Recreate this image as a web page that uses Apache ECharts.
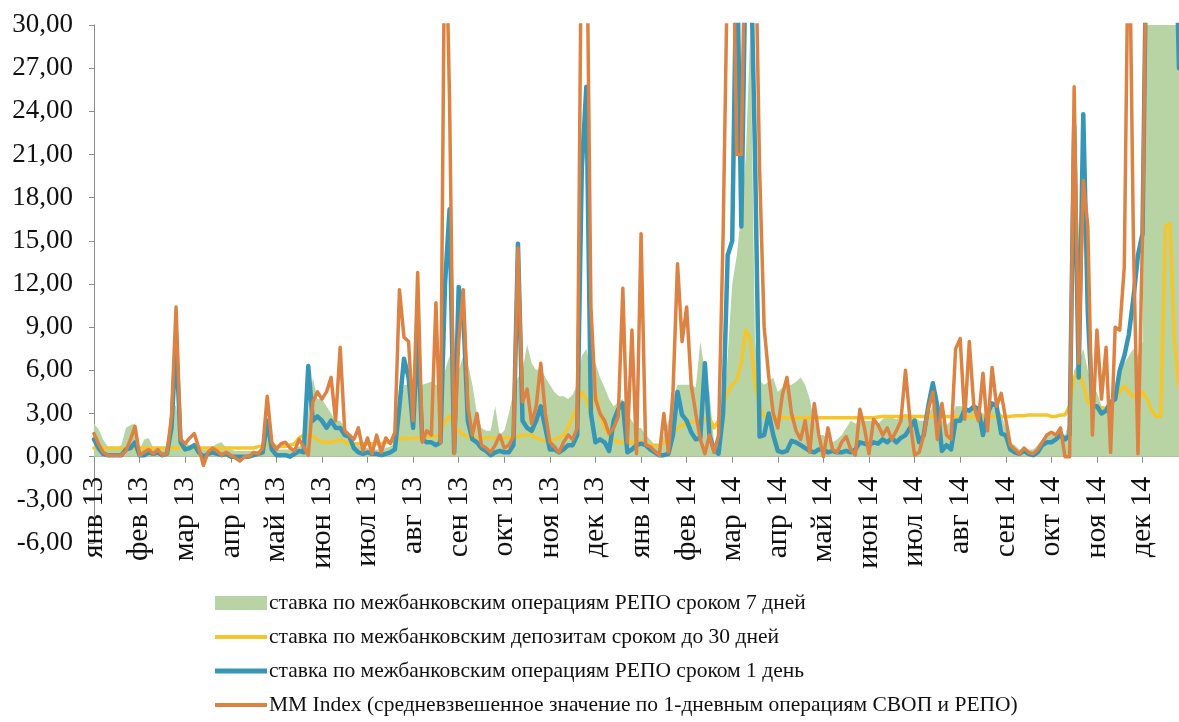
<!DOCTYPE html>
<html>
<head>
<meta charset="utf-8">
<script src="https://cdn.jsdelivr.net/npm/echarts@6/dist/echarts.min.js"></script>
<style>
html,body{margin:0;padding:0;background:#fff;overflow:hidden;}
#chart{width:1179px;height:722px;}
</style>
</head>
<body>
<div id="chart"></div>
<script>
// Month tick labels (10 observations per month, plus closing point)
const months = ['янв 13','фев 13','мар 13','апр 13','май 13','июн 13','июл 13','авг 13','сен 13','окт 13','ноя 13','дек 13',
                'янв 14','фев 14','мар 14','апр 14','май 14','июн 14','июл 14','авг 14','сен 14','окт 14','ноя 14','дек 14'];
const perMonth = 10;

const seriesNames = [
  'ставка по межбанковским операциям РЕПО сроком 7 дней',
  'ставка по межбанковским депозитам сроком до 30 дней',
  'ставка по межбанковским операциям РЕПО сроком 1 день',
  'MM Index (средневзвешенное значение по 1-дневным операциям СВОП и РЕПО)'
];

// 7-day REPO rate (green area)
const repo7 = [
  2.3,1.9,1.2,0.7,0.6,0.6,0.8,2.0,2.2,2.3,
  0.5,1.2,1.3,0.6,0.5,0.5,0.8,3.8,3.5,1.5,
  1.0,0.8,0.7,0.6,0.5,0.5,0.7,0.9,1.0,0.6,
  0.5,0.4,0.4,0.4,0.4,0.4,0.4,0.5,1.5,0.8,
  0.5,0.5,0.5,0.5,0.6,0.7,1.0,3.0,5.5,4.0,
  4.0,3.5,3.0,2.5,2.5,2.0,1.5,1.0,0.8,0.6,
  0.6,0.5,0.5,0.5,0.6,0.7,1.0,3.0,5.0,5.0,
  5.0,5.0,5.0,5.1,5.2,5.0,5.0,6.0,7.0,5.5,
  6.0,7.0,6.5,5.0,3.0,2.0,1.8,1.8,3.5,1.5,
  1.8,3.0,4.5,5.5,6.0,7.8,6.5,6.0,6.2,5.5,
  5.0,4.5,4.2,4.2,4.0,4.3,5.0,7.0,7.5,6.0,
  6.5,5.5,4.8,4.0,3.5,3.8,4.0,3.0,2.5,2.0,
  2.0,1.5,1.2,0.8,0.6,1.5,2.5,4.0,5.0,5.0,
  5.0,5.0,4.8,8.0,6.0,4.5,1.0,0.3,3.0,7.0,
  12,14,17,21,30,8,5.3,5.0,5.2,5.5,
  4.5,4.8,5.0,5.0,5.2,5.5,5.0,4.0,2.5,1.5,
  1.5,1.2,1.0,1.2,1.5,2.0,2.5,2.3,2.5,2.5,
  2.5,2.5,2.3,2.6,2.8,2.7,2.6,2.8,3.0,2.8,
  2.8,2.5,2.5,3.0,3.5,3.0,2.5,2.2,2.5,3.5,
  3.5,3.5,3.3,3.5,3.2,3.0,3.0,3.5,3.3,3.0,
  2.0,1.0,0.8,0.5,0.6,0.5,0.5,0.8,1.2,1.5,
  1.5,1.5,1.8,1.5,2.5,6.0,6.5,7.5,6.0,4.5,
  4.5,3.5,3.5,3.0,5.0,6.5,6.5,7.0,7.5,7.0,
  8,40,40,40,40,40,40,40,40,40,
  40
];

// Interbank deposits up to 30 days (yellow)
const dep30 = [
  0.6,0.6,0.6,0.6,0.6,0.6,0.6,0.6,0.6,0.6,
  0.6,0.6,0.6,0.6,0.6,0.6,0.6,0.6,0.6,0.6,
  0.6,0.6,0.6,0.6,0.6,0.6,0.6,0.6,0.6,0.6,
  0.6,0.6,0.6,0.6,0.6,0.6,0.7,0.7,0.8,0.8,
  0.7,0.7,0.7,0.8,0.9,1.3,1.5,1.5,1.4,1.2,
  1.0,1.0,1.0,1.1,1.2,1.0,0.9,0.9,0.9,0.9,
  0.9,0.9,0.9,0.9,1.0,1.0,1.1,1.2,1.3,1.2,
  1.3,1.3,1.3,1.4,1.4,1.4,1.5,2.5,2.8,2.0,
  1.8,1.5,1.4,1.3,1.3,1.3,1.3,1.3,1.3,1.3,
  1.3,1.3,1.3,1.4,1.5,1.5,1.5,1.3,1.2,1.1,
  1.1,1.2,1.3,1.5,2.0,2.8,3.5,4.5,4.0,3.0,
  4.5,3.0,2.0,1.5,1.2,1.0,1.0,1.0,1.0,1.0,
  1.0,0.9,0.8,0.8,0.8,1.0,1.2,1.5,2.0,2.2,
  2.3,2.4,2.5,2.5,2.6,2.7,2.0,2.5,3.5,4.5,
  5.0,5.3,6.5,8.8,8.2,5.0,3.5,2.8,2.7,2.7,
  2.7,2.7,2.7,2.7,2.7,2.7,2.7,2.7,2.7,2.7,
  2.7,2.7,2.7,2.7,2.7,2.7,2.7,2.7,2.7,2.7,
  2.7,2.7,2.75,2.8,2.8,2.8,2.8,2.8,2.8,2.8,
  2.8,2.8,2.8,2.8,2.8,2.8,2.8,2.8,2.8,2.8,
  2.8,2.8,2.8,2.8,2.8,2.8,2.8,2.8,2.8,2.8,
  2.8,2.8,2.85,2.85,2.85,2.9,2.9,2.9,2.9,2.9,
  2.8,2.8,2.9,2.9,3.5,5.5,6.0,5.0,3.8,3.5,
  3.5,3.4,3.3,3.5,4.0,4.5,4.9,4.5,4.2,4.0,
  4.5,4.0,3.2,2.8,2.8,16.0,16.2,8.0,4.9,5.0,
  5.0
];

// 1-day REPO rate (teal)
const repo1 = [
  1.2,0.6,0.2,0.1,0.1,0.1,0.1,0.5,0.6,1.0,
  0.1,0.1,0.3,0.2,0.3,0.1,0.2,2.0,8.0,1.0,
  0.5,0.6,0.8,0.3,0.0,0.2,0.3,0.2,0.1,0.2,
  0.0,0.0,0.0,0.0,0.0,0.1,0.2,0.3,2.5,0.5,
  0.1,0.1,0.1,0.0,0.2,0.4,0.3,6.3,2.5,2.8,
  2.5,2.0,2.5,2.0,2.0,1.5,1.4,0.6,0.3,0.2,
  0.3,0.2,0.2,0.1,0.2,0.3,0.5,3.5,6.8,5.5,
  2.0,8.5,1.2,1.0,1.0,0.8,1.0,12.0,17.2,0.3,
  11.8,10.0,2.5,1.2,1.0,0.6,0.4,0.1,0.3,0.4,
  0.3,0.3,0.8,14.8,2.5,2.0,1.8,2.5,3.5,2.0,
  0.5,0.5,0.3,0.5,0.8,0.8,1.5,20,25.7,3.0,
  1.0,1.2,1.0,0.4,2.5,3.3,3.7,0.3,0.5,0.8,
  0.9,0.8,0.5,0.3,0.1,0.1,0.2,1.5,4.5,2.9,
  2.5,1.7,1.2,1.3,6.5,1.5,0.5,0.2,3.0,14.0,
  15,36,16,36,36,21,1.4,1.5,3.0,1.5,
  0.4,0.3,0.4,1.1,1.0,0.8,0.6,0.4,0.3,0.5,
  0.5,0.3,0.4,0.3,0.3,0.4,0.3,0.5,1.0,0.9,
  0.8,1.0,0.9,1.2,1.0,1.3,1.0,1.3,1.5,2.0,
  2.5,1.0,1.5,3.5,5.1,3.5,0.4,0.8,0.5,2.5,
  2.5,3.3,3.2,3.5,3.3,1.5,3.0,3.7,3.5,1.6,
  1.5,0.5,0.3,0.2,0.4,0.2,0.1,0.3,0.8,1.0,
  1.0,1.2,1.5,1.2,1.5,23.0,5.5,23.8,10.0,3.5,
  3.5,3.0,3.2,3.8,4.0,6.0,7.0,8.5,11,14,
  15.5,40,40,40,40,40,40,40,27,27,
  27
];

// MM Index (orange)
const mmIndex = [
  1.6,0.9,0.3,0.1,0.1,0.1,0.1,0.4,1.2,2.1,
  0.1,0.3,0.5,0.2,0.5,0.1,0.2,2.8,10.4,1.2,
  0.9,1.3,1.6,0.6,-0.6,0.3,0.6,0.4,0.1,0.3,
  0.1,-0.1,-0.3,0.0,0.0,0.3,0.2,0.6,4.2,1.0,
  0.5,0.9,1.0,0.6,0.4,1.2,0.7,0.1,3.8,4.5,
  4.0,4.5,5.5,2.5,7.6,1.8,1.5,1.2,2.0,0.4,
  1.3,0.2,1.5,0.3,1.3,0.9,1.7,11.6,8.3,8.0,
  2.5,12.8,1.0,1.8,1.5,10.7,1.0,40,24.6,0.2,
  8.0,11.6,3.5,1.5,3.0,0.8,0.6,0.3,0.8,1.5,
  0.6,0.8,1.4,14.5,3.8,4.7,2.3,3.5,6.5,3.0,
  1.0,0.7,0.3,1.0,1.5,1.2,2.0,40,40,10.4,
  4.0,3.0,2.5,1.6,2.0,2.8,11.7,1.0,8.8,0.2,
  15.5,0.8,0.7,0.4,0.1,3.0,0.3,4.5,13.4,8.0,
  10.4,5.0,3.0,1.2,0.2,1.5,0.3,1.5,15.5,35,
  40,21,21,40,40,38,20,9,5.6,3.0,
  2.0,4.3,5.5,3.0,1.8,1.2,2.5,0.3,3.7,1.5,
  0.0,2.0,0.5,0.3,1.0,1.4,0.5,0.1,3.3,2.0,
  0.2,2.6,2.2,1.5,2.0,1.2,1.8,2.5,6.0,2.5,
  0.1,0.3,1.5,3.3,4.5,1.2,3.7,1.5,1.2,7.5,
  8.2,2.6,8.0,3.5,2.5,5.8,1.8,6.2,3.5,4.4,
  2.6,0.8,0.5,0.2,0.6,0.3,0.2,0.5,1.0,1.5,
  1.7,1.5,2.0,0.0,0.0,25.7,6.5,19.2,16.0,1.5,
  8.8,4.0,7.6,0.3,9.0,8.8,13.2,40,15,0.2,
  15.5,40,40,40,40,40,40,40,40,40,
  40
];

const yTicks = {min: -6, max: 30, interval: 3};

const colors = {green: '#B8D4A5', yellow: '#F5C62C', teal: '#3796B6', orange: '#DC8242'};
const FONT = 'Liberation Serif';

const categories = repo7.map((_, i) => String(i));
// last visible observation index (chart is cropped on the right inside December 2014)
const lastVisibleIndex = 238;

// layout
const gridTop = 25, gridBottomPx = 543, gridLeft = 94;
const zeroOffset = -(gridBottomPx - gridTop) * (0 - yTicks.min) / (yTicks.max - yTicks.min);

const chart = echarts.init(document.getElementById('chart'), null, {renderer: 'canvas'});
chart.setOption({
  animation: false,
  backgroundColor: '#fff',
  grid: {left: gridLeft, right: 0, top: gridTop, height: gridBottomPx - gridTop, containLabel: false},
  xAxis: {
    type: 'category',
    data: categories,
    boundaryGap: false,
    min: 0,
    max: lastVisibleIndex,
    offset: zeroOffset,
    axisLine: {onZero: false, lineStyle: {color: '#8c8c8c', width: 1}},
    axisTick: {show: true, length: 6, interval: (idx) => idx % perMonth === 0, lineStyle: {color: '#8c8c8c'}},
    axisLabel: {
      rotate: 90,
      margin: 20,
      interval: (idx) => idx % perMonth === 0,
      formatter: (v, idx) => months[Math.round(idx / perMonth)] || '',
      fontFamily: FONT, fontSize: 30, color: '#111'
    },
    splitLine: {show: false}
  },
  yAxis: {
    type: 'value',
    min: yTicks.min, max: yTicks.max, interval: yTicks.interval,
    axisLine: {show: true, lineStyle: {color: '#8c8c8c', width: 1}},
    axisTick: {show: true, length: 5, lineStyle: {color: '#8c8c8c'}},
    axisLabel: {
      margin: 21,
      formatter: (v) => v.toFixed(2).replace('.', ','),
      fontFamily: FONT, fontSize: 27, color: '#111'
    },
    splitLine: {show: false}
  },
  legend: {
    orient: 'vertical',
    left: 215, top: 592,
    padding: 0,
    itemWidth: 52, itemHeight: 14, itemGap: 12,
    textStyle: {fontFamily: FONT, fontSize: 21.5, color: '#111', padding: [0, 0, 0, -3]},
    data: [
      {name: seriesNames[0], icon: 'rect'},
      {name: seriesNames[1], icon: 'path://M0,0H52V4H0Z'},
      {name: seriesNames[2], icon: 'path://M0,0H52V5H0Z'},
      {name: seriesNames[3], icon: 'path://M0,0H52V4H0Z'}
    ]
  },
  series: [
    {
      name: seriesNames[0], type: 'line', data: repo7,
      color: colors.green, symbol: 'none', showSymbol: false,
      lineStyle: {width: 0, color: colors.green},
      areaStyle: {color: colors.green, opacity: 1},
      z: 1
    },
    {
      name: seriesNames[1], type: 'line', data: dep30,
      color: colors.yellow, symbol: 'none', showSymbol: false,
      lineStyle: {width: 3.5, color: colors.yellow, join: 'round', cap: 'round'},
      z: 2
    },
    {
      name: seriesNames[2], type: 'line', data: repo1,
      color: colors.teal, symbol: 'none', showSymbol: false,
      lineStyle: {width: 4.5, color: colors.teal, join: 'round', cap: 'round'},
      z: 3
    },
    {
      name: seriesNames[3], type: 'line', data: mmIndex,
      color: colors.orange, symbol: 'none', showSymbol: false,
      lineStyle: {width: 3.5, color: colors.orange, join: 'round', cap: 'round'},
      z: 4
    }
  ]
});
</script>
</body>
</html>
